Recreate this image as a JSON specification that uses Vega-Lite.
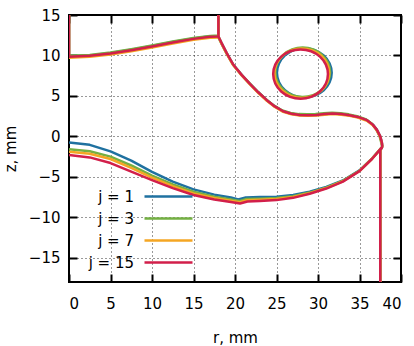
{
  "$schema": "https://vega.github.io/schema/vega-lite/v6.json",
  "width": 332,
  "height": 267,
  "autosize": {"type": "none"},
  "padding": {"left": 69, "top": 15, "right": 13, "bottom": 64},
  "background": "white",
  "config": {
    "view": {"stroke": "black", "strokeWidth": 2},
    "font": "DejaVu Sans",
    "axis": {
      "labelFont": "DejaVu Sans", "labelFontSize": 15, "labelColor": "black",
      "titleFont": "DejaVu Sans", "titleFontSize": 15, "titleFontWeight": "normal", "titleColor": "black",
      "domain": false, "tickColor": "black", "tickWidth": 2, "tickSize": -8,
      "gridColor": "black", "gridDash": [1, 3], "gridOpacity": 0.8, "gridWidth": 1
    },
    "legend": {
      "orient": "none", "legendX": 86, "legendY": 168,
      "symbolType": "M-2,0H2", "symbolSize": 576, "symbolStrokeWidth": 2.5,
      "labelFont": "DejaVu Sans", "labelFontSize": 15, "labelColor": "black",
      "labelAlign": "right", "labelOffset": -48, "rowPadding": 0
    }
  },
  "datasets": {
    "d": [
      {"j":"j = 1","s":"A","o":0,"r":0,"z":15},{"j":"j = 1","s":"A","o":1,"r":0,"z":9.91},{"j":"j = 1","s":"A","o":2,"r":2.5,"z":10.01},{"j":"j = 1","s":"A","o":3,"r":5,"z":10.31},{"j":"j = 1","s":"A","o":4,"r":7.5,"z":10.71},{"j":"j = 1","s":"A","o":5,"r":10,"z":11.16},{"j":"j = 1","s":"A","o":6,"r":12.5,"z":11.66},{"j":"j = 1","s":"A","o":7,"r":15,"z":12.11},{"j":"j = 1","s":"A","o":8,"r":17,"z":12.36},{"j":"j = 1","s":"A","o":9,"r":18,"z":12.41},{"j":"j = 1","s":"A","o":10,"r":18,"z":15},
      {"j":"j = 1","s":"B","o":0,"r":18,"z":12.35},{"j":"j = 1","s":"B","o":1,"r":18.4,"z":11.5},{"j":"j = 1","s":"B","o":2,"r":19,"z":10.3},{"j":"j = 1","s":"B","o":3,"r":19.8,"z":8.85},{"j":"j = 1","s":"B","o":4,"r":20.8,"z":7.6},{"j":"j = 1","s":"B","o":5,"r":21.8,"z":6.5},{"j":"j = 1","s":"B","o":6,"r":22.8,"z":5.45},{"j":"j = 1","s":"B","o":7,"r":23.8,"z":4.5},{"j":"j = 1","s":"B","o":8,"r":24.8,"z":3.7},{"j":"j = 1","s":"B","o":9,"r":25.8,"z":3.1},{"j":"j = 1","s":"B","o":10,"r":26.8,"z":2.8},{"j":"j = 1","s":"B","o":11,"r":27.8,"z":2.65},{"j":"j = 1","s":"B","o":12,"r":28.8,"z":2.62},{"j":"j = 1","s":"B","o":13,"r":29.8,"z":2.65},{"j":"j = 1","s":"B","o":14,"r":30.8,"z":2.75},{"j":"j = 1","s":"B","o":15,"r":31.8,"z":2.82},{"j":"j = 1","s":"B","o":16,"r":32.8,"z":2.75},{"j":"j = 1","s":"B","o":17,"r":33.8,"z":2.62},{"j":"j = 1","s":"B","o":18,"r":34.8,"z":2.4},{"j":"j = 1","s":"B","o":19,"r":35.9,"z":2.0},{"j":"j = 1","s":"B","o":20,"r":36.6,"z":1.45},{"j":"j = 1","s":"B","o":21,"r":37.1,"z":0.8},{"j":"j = 1","s":"B","o":22,"r":37.5,"z":0.0},{"j":"j = 1","s":"B","o":23,"r":37.7,"z":-0.8},{"j":"j = 1","s":"B","o":24,"r":37.75,"z":-1.3},
      {"j":"j = 1","s":"C","o":0,"r":0,"z":-0.75},{"j":"j = 1","s":"C","o":1,"r":2.5,"z":-1.05},{"j":"j = 1","s":"C","o":2,"r":5,"z":-1.85},{"j":"j = 1","s":"C","o":3,"r":7.5,"z":-3.0},{"j":"j = 1","s":"C","o":4,"r":10,"z":-4.4},{"j":"j = 1","s":"C","o":5,"r":12.5,"z":-5.6},{"j":"j = 1","s":"C","o":6,"r":15,"z":-6.55},{"j":"j = 1","s":"C","o":7,"r":17.5,"z":-7.2},{"j":"j = 1","s":"C","o":8,"r":19.5,"z":-7.55},{"j":"j = 1","s":"C","o":9,"r":20.4,"z":-7.8},{"j":"j = 1","s":"C","o":10,"r":21.3,"z":-7.55},{"j":"j = 1","s":"C","o":11,"r":23,"z":-7.5},{"j":"j = 1","s":"C","o":12,"r":25,"z":-7.45},{"j":"j = 1","s":"C","o":13,"r":27,"z":-7.25},{"j":"j = 1","s":"C","o":14,"r":29,"z":-6.85},{"j":"j = 1","s":"C","o":15,"r":31,"z":-6.25},{"j":"j = 1","s":"C","o":16,"r":33,"z":-5.45},{"j":"j = 1","s":"C","o":17,"r":35,"z":-4.2},{"j":"j = 1","s":"C","o":18,"r":36.5,"z":-2.75},{"j":"j = 1","s":"C","o":19,"r":37.75,"z":-1.3},
      {"j":"j = 1","s":"D","o":0,"r":37.5,"z":-18},{"j":"j = 1","s":"D","o":1,"r":37.5,"z":-1.7},{"j":"j = 1","s":"D","o":2,"r":37.75,"z":-1.3},
      {"j":"j = 1","s":"E","o":0,"r":31.65,"z":7.85},{"j":"j = 1","s":"E","o":1,"r":31.399,"z":9.018},{"j":"j = 1","s":"E","o":2,"r":30.683,"z":10.007},{"j":"j = 1","s":"E","o":3,"r":29.614,"z":10.668},{"j":"j = 1","s":"E","o":4,"r":28.35,"z":10.9},{"j":"j = 1","s":"E","o":5,"r":27.086,"z":10.668},{"j":"j = 1","s":"E","o":6,"r":26.017,"z":10.007},{"j":"j = 1","s":"E","o":7,"r":25.301,"z":9.018},{"j":"j = 1","s":"E","o":8,"r":25.05,"z":7.85},{"j":"j = 1","s":"E","o":9,"r":25.301,"z":6.682},{"j":"j = 1","s":"E","o":10,"r":26.017,"z":5.693},{"j":"j = 1","s":"E","o":11,"r":27.086,"z":5.032},{"j":"j = 1","s":"E","o":12,"r":28.35,"z":4.8},{"j":"j = 1","s":"E","o":13,"r":29.614,"z":5.032},{"j":"j = 1","s":"E","o":14,"r":30.683,"z":5.693},{"j":"j = 1","s":"E","o":15,"r":31.399,"z":6.682},

      {"j":"j = 3","s":"A","o":0,"r":0,"z":15},{"j":"j = 3","s":"A","o":1,"r":0,"z":9.97},{"j":"j = 3","s":"A","o":2,"r":2.5,"z":10.07},{"j":"j = 3","s":"A","o":3,"r":5,"z":10.37},{"j":"j = 3","s":"A","o":4,"r":7.5,"z":10.77},{"j":"j = 3","s":"A","o":5,"r":10,"z":11.22},{"j":"j = 3","s":"A","o":6,"r":12.5,"z":11.72},{"j":"j = 3","s":"A","o":7,"r":15,"z":12.17},{"j":"j = 3","s":"A","o":8,"r":17,"z":12.42},{"j":"j = 3","s":"A","o":9,"r":18,"z":12.47},{"j":"j = 3","s":"A","o":10,"r":18,"z":15},
      {"j":"j = 3","s":"B","o":0,"r":17.9,"z":12.45},{"j":"j = 3","s":"B","o":1,"r":18.3,"z":11.6},{"j":"j = 3","s":"B","o":2,"r":18.9,"z":10.4},{"j":"j = 3","s":"B","o":3,"r":19.7,"z":8.95},{"j":"j = 3","s":"B","o":4,"r":20.7,"z":7.7},{"j":"j = 3","s":"B","o":5,"r":21.7,"z":6.6},{"j":"j = 3","s":"B","o":6,"r":22.7,"z":5.55},{"j":"j = 3","s":"B","o":7,"r":23.7,"z":4.6},{"j":"j = 3","s":"B","o":8,"r":24.7,"z":3.8},{"j":"j = 3","s":"B","o":9,"r":25.7,"z":3.2},{"j":"j = 3","s":"B","o":10,"r":26.7,"z":2.9},{"j":"j = 3","s":"B","o":11,"r":27.7,"z":2.75},{"j":"j = 3","s":"B","o":12,"r":28.7,"z":2.72},{"j":"j = 3","s":"B","o":13,"r":29.7,"z":2.75},{"j":"j = 3","s":"B","o":14,"r":30.7,"z":2.85},{"j":"j = 3","s":"B","o":15,"r":31.7,"z":2.92},{"j":"j = 3","s":"B","o":16,"r":32.7,"z":2.85},{"j":"j = 3","s":"B","o":17,"r":33.7,"z":2.72},{"j":"j = 3","s":"B","o":18,"r":34.7,"z":2.5},{"j":"j = 3","s":"B","o":19,"r":35.8,"z":2.1},{"j":"j = 3","s":"B","o":20,"r":36.5,"z":1.55},{"j":"j = 3","s":"B","o":21,"r":37.0,"z":0.9},{"j":"j = 3","s":"B","o":22,"r":37.4,"z":0.1},{"j":"j = 3","s":"B","o":23,"r":37.6,"z":-0.7},{"j":"j = 3","s":"B","o":24,"r":37.75,"z":-1.3},
      {"j":"j = 3","s":"C","o":0,"r":0,"z":-1.6},{"j":"j = 3","s":"C","o":1,"r":2.5,"z":-1.85},{"j":"j = 3","s":"C","o":2,"r":5,"z":-2.5},{"j":"j = 3","s":"C","o":3,"r":7.5,"z":-3.6},{"j":"j = 3","s":"C","o":4,"r":10,"z":-4.85},{"j":"j = 3","s":"C","o":5,"r":12.5,"z":-5.95},{"j":"j = 3","s":"C","o":6,"r":15,"z":-6.85},{"j":"j = 3","s":"C","o":7,"r":17.5,"z":-7.45},{"j":"j = 3","s":"C","o":8,"r":19.5,"z":-7.8},{"j":"j = 3","s":"C","o":9,"r":20.5,"z":-8.0},{"j":"j = 3","s":"C","o":10,"r":21.4,"z":-7.75},{"j":"j = 3","s":"C","o":11,"r":23,"z":-7.7},{"j":"j = 3","s":"C","o":12,"r":25,"z":-7.62},{"j":"j = 3","s":"C","o":13,"r":27,"z":-7.4},{"j":"j = 3","s":"C","o":14,"r":29,"z":-6.95},{"j":"j = 3","s":"C","o":15,"r":31,"z":-6.33},{"j":"j = 3","s":"C","o":16,"r":33,"z":-5.5},{"j":"j = 3","s":"C","o":17,"r":35,"z":-4.25},{"j":"j = 3","s":"C","o":18,"r":36.5,"z":-2.77},{"j":"j = 3","s":"C","o":19,"r":37.75,"z":-1.3},
      {"j":"j = 3","s":"D","o":0,"r":37.5,"z":-18},{"j":"j = 3","s":"D","o":1,"r":37.5,"z":-1.7},{"j":"j = 3","s":"D","o":2,"r":37.75,"z":-1.3},
      {"j":"j = 3","s":"E","o":0,"r":31.45,"z":7.92},{"j":"j = 3","s":"E","o":1,"r":31.199,"z":9.088},{"j":"j = 3","s":"E","o":2,"r":30.483,"z":10.077},{"j":"j = 3","s":"E","o":3,"r":29.414,"z":10.738},{"j":"j = 3","s":"E","o":4,"r":28.15,"z":10.97},{"j":"j = 3","s":"E","o":5,"r":26.886,"z":10.738},{"j":"j = 3","s":"E","o":6,"r":25.817,"z":10.077},{"j":"j = 3","s":"E","o":7,"r":25.101,"z":9.088},{"j":"j = 3","s":"E","o":8,"r":24.85,"z":7.92},{"j":"j = 3","s":"E","o":9,"r":25.101,"z":6.752},{"j":"j = 3","s":"E","o":10,"r":25.817,"z":5.763},{"j":"j = 3","s":"E","o":11,"r":26.886,"z":5.102},{"j":"j = 3","s":"E","o":12,"r":28.15,"z":4.87},{"j":"j = 3","s":"E","o":13,"r":29.414,"z":5.102},{"j":"j = 3","s":"E","o":14,"r":30.483,"z":5.763},{"j":"j = 3","s":"E","o":15,"r":31.199,"z":6.752},

      {"j":"j = 7","s":"A","o":0,"r":0,"z":15},{"j":"j = 7","s":"A","o":1,"r":0,"z":9.73},{"j":"j = 7","s":"A","o":2,"r":2.5,"z":9.83},{"j":"j = 7","s":"A","o":3,"r":5,"z":10.13},{"j":"j = 7","s":"A","o":4,"r":7.5,"z":10.53},{"j":"j = 7","s":"A","o":5,"r":10,"z":10.98},{"j":"j = 7","s":"A","o":6,"r":12.5,"z":11.48},{"j":"j = 7","s":"A","o":7,"r":15,"z":11.93},{"j":"j = 7","s":"A","o":8,"r":17,"z":12.18},{"j":"j = 7","s":"A","o":9,"r":18,"z":12.23},{"j":"j = 7","s":"A","o":10,"r":18,"z":15},
      {"j":"j = 7","s":"B","o":0,"r":18,"z":12.35},{"j":"j = 7","s":"B","o":1,"r":18.4,"z":11.43},{"j":"j = 7","s":"B","o":2,"r":19,"z":10.23},{"j":"j = 7","s":"B","o":3,"r":19.8,"z":8.78},{"j":"j = 7","s":"B","o":4,"r":20.8,"z":7.53},{"j":"j = 7","s":"B","o":5,"r":21.8,"z":6.43},{"j":"j = 7","s":"B","o":6,"r":22.8,"z":5.38},{"j":"j = 7","s":"B","o":7,"r":23.8,"z":4.43},{"j":"j = 7","s":"B","o":8,"r":24.8,"z":3.63},{"j":"j = 7","s":"B","o":9,"r":25.8,"z":3.03},{"j":"j = 7","s":"B","o":10,"r":26.8,"z":2.73},{"j":"j = 7","s":"B","o":11,"r":27.8,"z":2.58},{"j":"j = 7","s":"B","o":12,"r":28.8,"z":2.55},{"j":"j = 7","s":"B","o":13,"r":29.8,"z":2.58},{"j":"j = 7","s":"B","o":14,"r":30.8,"z":2.68},{"j":"j = 7","s":"B","o":15,"r":31.8,"z":2.75},{"j":"j = 7","s":"B","o":16,"r":32.8,"z":2.68},{"j":"j = 7","s":"B","o":17,"r":33.8,"z":2.55},{"j":"j = 7","s":"B","o":18,"r":34.8,"z":2.33},{"j":"j = 7","s":"B","o":19,"r":35.9,"z":1.93},{"j":"j = 7","s":"B","o":20,"r":36.6,"z":1.38},{"j":"j = 7","s":"B","o":21,"r":37.1,"z":0.73},{"j":"j = 7","s":"B","o":22,"r":37.5,"z":-0.07},{"j":"j = 7","s":"B","o":23,"r":37.7,"z":-0.87},{"j":"j = 7","s":"B","o":24,"r":37.75,"z":-1.3},
      {"j":"j = 7","s":"C","o":0,"r":0,"z":-1.9},{"j":"j = 7","s":"C","o":1,"r":2.5,"z":-2.15},{"j":"j = 7","s":"C","o":2,"r":5,"z":-2.8},{"j":"j = 7","s":"C","o":3,"r":7.5,"z":-3.9},{"j":"j = 7","s":"C","o":4,"r":10,"z":-5.1},{"j":"j = 7","s":"C","o":5,"r":12.5,"z":-6.15},{"j":"j = 7","s":"C","o":6,"r":15,"z":-7.05},{"j":"j = 7","s":"C","o":7,"r":17.5,"z":-7.62},{"j":"j = 7","s":"C","o":8,"r":19.5,"z":-7.95},{"j":"j = 7","s":"C","o":9,"r":20.55,"z":-8.15},{"j":"j = 7","s":"C","o":10,"r":21.45,"z":-7.9},{"j":"j = 7","s":"C","o":11,"r":23,"z":-7.84},{"j":"j = 7","s":"C","o":12,"r":25,"z":-7.75},{"j":"j = 7","s":"C","o":13,"r":27,"z":-7.5},{"j":"j = 7","s":"C","o":14,"r":29,"z":-7.02},{"j":"j = 7","s":"C","o":15,"r":31,"z":-6.39},{"j":"j = 7","s":"C","o":16,"r":33,"z":-5.55},{"j":"j = 7","s":"C","o":17,"r":35,"z":-4.28},{"j":"j = 7","s":"C","o":18,"r":36.5,"z":-2.79},{"j":"j = 7","s":"C","o":19,"r":37.75,"z":-1.3},
      {"j":"j = 7","s":"D","o":0,"r":37.5,"z":-18},{"j":"j = 7","s":"D","o":1,"r":37.5,"z":-1.7},{"j":"j = 7","s":"D","o":2,"r":37.75,"z":-1.3},
      {"j":"j = 7","s":"E","o":0,"r":31.35,"z":7.8},{"j":"j = 7","s":"E","o":1,"r":31.099,"z":8.968},{"j":"j = 7","s":"E","o":2,"r":30.383,"z":9.957},{"j":"j = 7","s":"E","o":3,"r":29.314,"z":10.618},{"j":"j = 7","s":"E","o":4,"r":28.05,"z":10.85},{"j":"j = 7","s":"E","o":5,"r":26.786,"z":10.618},{"j":"j = 7","s":"E","o":6,"r":25.717,"z":9.957},{"j":"j = 7","s":"E","o":7,"r":25.001,"z":8.968},{"j":"j = 7","s":"E","o":8,"r":24.75,"z":7.8},{"j":"j = 7","s":"E","o":9,"r":25.001,"z":6.632},{"j":"j = 7","s":"E","o":10,"r":25.717,"z":5.643},{"j":"j = 7","s":"E","o":11,"r":26.786,"z":4.982},{"j":"j = 7","s":"E","o":12,"r":28.05,"z":4.75},{"j":"j = 7","s":"E","o":13,"r":29.314,"z":4.982},{"j":"j = 7","s":"E","o":14,"r":30.383,"z":5.643},{"j":"j = 7","s":"E","o":15,"r":31.099,"z":6.632},

      {"j":"j = 15","s":"A","o":0,"r":0,"z":15},{"j":"j = 15","s":"A","o":1,"r":0,"z":9.85},{"j":"j = 15","s":"A","o":2,"r":2.5,"z":9.95},{"j":"j = 15","s":"A","o":3,"r":5,"z":10.25},{"j":"j = 15","s":"A","o":4,"r":7.5,"z":10.65},{"j":"j = 15","s":"A","o":5,"r":10,"z":11.1},{"j":"j = 15","s":"A","o":6,"r":12.5,"z":11.6},{"j":"j = 15","s":"A","o":7,"r":15,"z":12.05},{"j":"j = 15","s":"A","o":8,"r":17,"z":12.3},{"j":"j = 15","s":"A","o":9,"r":18,"z":12.35},{"j":"j = 15","s":"A","o":10,"r":18,"z":15},
      {"j":"j = 15","s":"B","o":0,"r":18,"z":12.35},{"j":"j = 15","s":"B","o":1,"r":18.4,"z":11.5},{"j":"j = 15","s":"B","o":2,"r":19,"z":10.3},{"j":"j = 15","s":"B","o":3,"r":19.8,"z":8.85},{"j":"j = 15","s":"B","o":4,"r":20.8,"z":7.6},{"j":"j = 15","s":"B","o":5,"r":21.8,"z":6.5},{"j":"j = 15","s":"B","o":6,"r":22.8,"z":5.45},{"j":"j = 15","s":"B","o":7,"r":23.8,"z":4.5},{"j":"j = 15","s":"B","o":8,"r":24.8,"z":3.7},{"j":"j = 15","s":"B","o":9,"r":25.8,"z":3.1},{"j":"j = 15","s":"B","o":10,"r":26.8,"z":2.8},{"j":"j = 15","s":"B","o":11,"r":27.8,"z":2.65},{"j":"j = 15","s":"B","o":12,"r":28.8,"z":2.62},{"j":"j = 15","s":"B","o":13,"r":29.8,"z":2.65},{"j":"j = 15","s":"B","o":14,"r":30.8,"z":2.75},{"j":"j = 15","s":"B","o":15,"r":31.8,"z":2.82},{"j":"j = 15","s":"B","o":16,"r":32.8,"z":2.75},{"j":"j = 15","s":"B","o":17,"r":33.8,"z":2.62},{"j":"j = 15","s":"B","o":18,"r":34.8,"z":2.4},{"j":"j = 15","s":"B","o":19,"r":35.9,"z":2.0},{"j":"j = 15","s":"B","o":20,"r":36.6,"z":1.45},{"j":"j = 15","s":"B","o":21,"r":37.1,"z":0.8},{"j":"j = 15","s":"B","o":22,"r":37.5,"z":0.0},{"j":"j = 15","s":"B","o":23,"r":37.7,"z":-0.8},{"j":"j = 15","s":"B","o":24,"r":37.75,"z":-1.3},
      {"j":"j = 15","s":"C","o":0,"r":0,"z":-2.3},{"j":"j = 15","s":"C","o":1,"r":2.5,"z":-2.6},{"j":"j = 15","s":"C","o":2,"r":5,"z":-3.3},{"j":"j = 15","s":"C","o":3,"r":7.5,"z":-4.35},{"j":"j = 15","s":"C","o":4,"r":10,"z":-5.4},{"j":"j = 15","s":"C","o":5,"r":12.5,"z":-6.4},{"j":"j = 15","s":"C","o":6,"r":15,"z":-7.25},{"j":"j = 15","s":"C","o":7,"r":17.5,"z":-7.8},{"j":"j = 15","s":"C","o":8,"r":19.5,"z":-8.1},{"j":"j = 15","s":"C","o":9,"r":20.6,"z":-8.3},{"j":"j = 15","s":"C","o":10,"r":21.5,"z":-8.05},{"j":"j = 15","s":"C","o":11,"r":23,"z":-7.98},{"j":"j = 15","s":"C","o":12,"r":25,"z":-7.88},{"j":"j = 15","s":"C","o":13,"r":27,"z":-7.6},{"j":"j = 15","s":"C","o":14,"r":29,"z":-7.1},{"j":"j = 15","s":"C","o":15,"r":31,"z":-6.45},{"j":"j = 15","s":"C","o":16,"r":33,"z":-5.6},{"j":"j = 15","s":"C","o":17,"r":35,"z":-4.3},{"j":"j = 15","s":"C","o":18,"r":36.5,"z":-2.8},{"j":"j = 15","s":"C","o":19,"r":37.75,"z":-1.3},
      {"j":"j = 15","s":"D","o":0,"r":37.5,"z":-18},{"j":"j = 15","s":"D","o":1,"r":37.5,"z":-1.7},{"j":"j = 15","s":"D","o":2,"r":37.75,"z":-1.3},
      {"j":"j = 15","s":"E","o":0,"r":31.2,"z":7.7},{"j":"j = 15","s":"E","o":1,"r":30.949,"z":8.868},{"j":"j = 15","s":"E","o":2,"r":30.233,"z":9.857},{"j":"j = 15","s":"E","o":3,"r":29.164,"z":10.518},{"j":"j = 15","s":"E","o":4,"r":27.9,"z":10.75},{"j":"j = 15","s":"E","o":5,"r":26.636,"z":10.518},{"j":"j = 15","s":"E","o":6,"r":25.567,"z":9.857},{"j":"j = 15","s":"E","o":7,"r":24.851,"z":8.868},{"j":"j = 15","s":"E","o":8,"r":24.6,"z":7.7},{"j":"j = 15","s":"E","o":9,"r":24.851,"z":6.532},{"j":"j = 15","s":"E","o":10,"r":25.567,"z":5.543},{"j":"j = 15","s":"E","o":11,"r":26.636,"z":4.882},{"j":"j = 15","s":"E","o":12,"r":27.9,"z":4.65},{"j":"j = 15","s":"E","o":13,"r":29.164,"z":4.882},{"j":"j = 15","s":"E","o":14,"r":30.233,"z":5.543},{"j":"j = 15","s":"E","o":15,"r":30.949,"z":6.532}
    ]
  },
  "data": {"name": "d"},
  "resolve": {"axis": {"x": "independent", "y": "independent"}},
  "layer": [
    {
      "transform": [{"filter": "datum.s != 'E'"}],
      "mark": {"type": "line", "strokeWidth": 2.5, "interpolate": "linear", "clip": true, "strokeJoin": "round"},
      "encoding": {
        "x": {"field": "r", "type": "quantitative", "scale": {"domain": [0, 40], "nice": false, "zero": false},
              "axis": {"orient": "bottom", "values": [0, 5, 10, 15, 20, 25, 30, 35, 40], "title": "r, mm", "labelPadding": 22, "titlePadding": 19, "grid": true}},
        "y": {"field": "z", "type": "quantitative", "scale": {"domain": [-18, 15], "nice": false, "zero": false},
              "axis": {"orient": "left", "values": [-15, -10, -5, 0, 5, 10, 15], "title": "z, mm", "labelPadding": 17, "titlePadding": 10, "grid": true}},
        "color": {"field": "j", "type": "nominal", "sort": null,
                  "scale": {"domain": ["j = 1", "j = 3", "j = 7", "j = 15"], "range": ["#1f71a0", "#74b043", "#f5a623", "#d21f4a"]},
                  "legend": {"title": null}},
        "detail": {"field": "s", "type": "nominal"},
        "order": {"field": "o", "type": "quantitative"}
      }
    },
    {
      "transform": [{"filter": "datum.s == 'E'"}],
      "mark": {"type": "line", "strokeWidth": 2.5, "interpolate": "cardinal-closed", "clip": true},
      "encoding": {
        "x": {"field": "r", "type": "quantitative", "scale": {"domain": [0, 40], "nice": false, "zero": false},
              "axis": {"orient": "top", "values": [0, 5, 10, 15, 20, 25, 30, 35, 40], "labels": false, "title": null, "grid": false}},
        "y": {"field": "z", "type": "quantitative", "scale": {"domain": [-18, 15], "nice": false, "zero": false},
              "axis": {"orient": "right", "values": [-15, -10, -5, 0, 5, 10, 15], "labels": false, "title": null, "grid": false}},
        "color": {"field": "j", "type": "nominal", "sort": null},
        "order": {"field": "o", "type": "quantitative"}
      }
    }
  ]
}
